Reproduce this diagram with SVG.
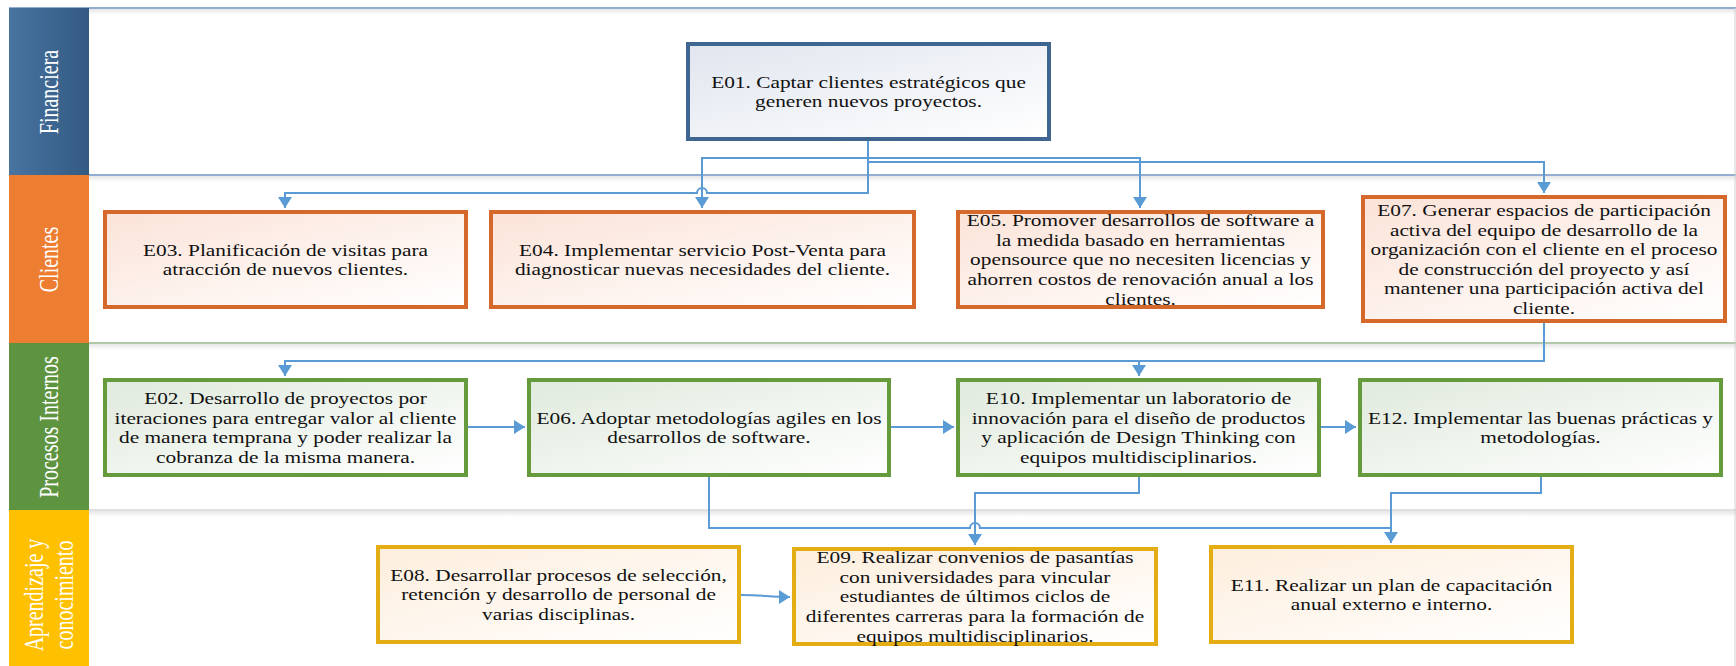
<svg xmlns="http://www.w3.org/2000/svg" width="1736" height="666" viewBox="0 0 1736 666">
<style>
.t{font-family:"Liberation Serif","Times New Roman",serif;font-size:17.5px;fill:#111111;text-anchor:middle}
.h{font-family:"Liberation Serif","Times New Roman",serif;font-size:20px;fill:#ffffff;text-anchor:middle}
.c{fill:none;stroke:#5B9BD5;stroke-width:2}
.ca{fill:none;stroke:#5B9BD5;stroke-width:2;marker-end:url(#ar)}
.bb{fill:url(#gb);stroke:#3F6690;stroke-width:4}
.bo{fill:url(#go);stroke:#D5692B;stroke-width:4}
.bg{fill:url(#gg);stroke:#659A3D;stroke-width:4}
.by{fill:url(#gy);stroke:#E4AD14;stroke-width:4}
</style>
<defs>
<marker id="ar" viewBox="0 0 11 14" refX="11" refY="7" markerWidth="11" markerHeight="14" markerUnits="userSpaceOnUse" orient="auto"><path d="M0,0 L11,7 L0,14 z" fill="#5B9BD5"/></marker>
<linearGradient id="gb" x1="0" y1="0" x2="1" y2="1"><stop offset="0" stop-color="#E0E5EE"/><stop offset="1" stop-color="#FFFFFF"/></linearGradient>
<linearGradient id="go" x1="0" y1="0" x2="1" y2="1"><stop offset="0" stop-color="#FBE3D8"/><stop offset="1" stop-color="#FFFFFF"/></linearGradient>
<linearGradient id="gg" x1="0" y1="0" x2="1" y2="1"><stop offset="0" stop-color="#E0EADD"/><stop offset="1" stop-color="#FFFFFF"/></linearGradient>
<linearGradient id="gy" x1="0" y1="0" x2="1" y2="1"><stop offset="0" stop-color="#FDEEDD"/><stop offset="1" stop-color="#FFFFFF"/></linearGradient>
<linearGradient id="hb" x1="0" y1="0" x2="1" y2="0"><stop offset="0" stop-color="#4874A0"/><stop offset="1" stop-color="#335A82"/></linearGradient>
<linearGradient id="sh" x1="0" y1="0" x2="0" y2="1"><stop offset="0" stop-color="#E6E6E6"/><stop offset="1" stop-color="#FFFFFF"/></linearGradient>
</defs>
<rect width="1736" height="666" fill="#ffffff"/>
<g id="lanes">
<rect x="88" y="9" width="1648" height="6" fill="url(#sh)"/>
<rect x="88" y="176" width="1648" height="6" fill="url(#sh)"/>
<rect x="88" y="344" width="1648" height="6" fill="url(#sh)"/>
<rect x="88" y="511" width="1648" height="6" fill="url(#sh)"/>
<line x1="9" y1="8" x2="1736" y2="8" stroke="#6C90C4" stroke-width="1.5"/>
<line x1="88" y1="175" x2="1736" y2="175" stroke="#7092C0" stroke-width="1.5"/>
<line x1="88" y1="343" x2="1736" y2="343" stroke="#9AB58C" stroke-width="1.5"/>
<line x1="88" y1="510" x2="1736" y2="510" stroke="#D6D6D6" stroke-width="1.5"/>
<line x1="1735" y1="8" x2="1735" y2="666" stroke="#D0D0D0" stroke-width="1"/>
<rect x="9" y="8" width="80" height="167" fill="url(#hb)"/>
<rect x="9" y="175" width="80" height="168" fill="#ED7D31"/>
<rect x="9" y="343" width="80" height="167" fill="#5E9440"/>
<rect x="9" y="510" width="80" height="156" fill="#FFC000"/>
<text class="h" transform="translate(58,92) scale(1.4,1) rotate(-90)">Financiera</text>
<text class="h" transform="translate(58,259.5) scale(1.4,1) rotate(-90)">Clientes</text>
<text class="h" transform="translate(58,427) scale(1.4,1) rotate(-90)">Procesos Internos</text>
<text class="h" transform="translate(43,595) scale(1.4,1) rotate(-90)">Aprendizaje y</text>
<text class="h" transform="translate(73,595) scale(1.4,1) rotate(-90)">conocimiento</text>
</g>
<g id="connectors">
<path class="ca" d="M868,141 V193 H707 A5,5 0 0 0 697,193 H285 V208"/>
<path class="ca" d="M868,158 H702 V208"/>
<path class="ca" d="M868,158 H1140 V208"/>
<path class="ca" d="M868,162 H1544 V193"/>
<path class="ca" d="M1544,323 V361 H285 V376"/>
<path class="ca" d="M1139,361 V376"/>
<path class="ca" d="M468,427 H525"/>
<path class="ca" d="M891,427 H954"/>
<path class="ca" d="M1321,427 H1356"/>
<path class="c" d="M709,477 V528 H970 A5,5 0 0 1 980,528 H1391"/>
<path class="ca" d="M1139,477 V493 H975 V545"/>
<path class="ca" d="M1541,477 V493 H1391 V543"/>
<path class="ca" d="M741,595 C762,595 770,597 790,597"/>
</g>
<g id="E01"><rect class="bb" x="688" y="44" width="361" height="95"/>
<text class="t" transform="translate(868.5,0) scale(1.22,1)"><tspan x="0" y="87.7">E01. Captar clientes estratégicos que</tspan><tspan x="0" y="107.3">generen nuevos proyectos.</tspan></text></g>
<g id="E03"><rect class="bo" x="105" y="212" width="361" height="95"/>
<text class="t" transform="translate(285.5,0) scale(1.22,1)"><tspan x="0" y="255.7">E03. Planificación de visitas para</tspan><tspan x="0" y="275.3">atracción de nuevos clientes.</tspan></text></g>
<g id="E04"><rect class="bo" x="491" y="212" width="423" height="95"/>
<text class="t" transform="translate(702.5,0) scale(1.22,1)"><tspan x="0" y="255.7">E04. Implementar servicio Post-Venta para</tspan><tspan x="0" y="275.3">diagnosticar nuevas necesidades del cliente.</tspan></text></g>
<g id="E05"><rect class="bo" x="958" y="212" width="365" height="95"/>
<text class="t" transform="translate(1140.5,0) scale(1.22,1)"><tspan x="0" y="226.3">E05. Promover desarrollos de software a</tspan><tspan x="0" y="245.9">la medida basado en herramientas</tspan><tspan x="0" y="265.5">opensource que no necesiten licencias y</tspan><tspan x="0" y="285.1">ahorren costos de renovación anual a los</tspan><tspan x="0" y="304.7">clientes.</tspan></text></g>
<g id="E07"><rect class="bo" x="1363" y="197" width="362" height="124"/>
<text class="t" transform="translate(1544,0) scale(1.22,1)"><tspan x="0" y="216">E07. Generar espacios de participación</tspan><tspan x="0" y="235.6">activa del equipo de desarrollo de la</tspan><tspan x="0" y="255.2">organización con el cliente en el proceso</tspan><tspan x="0" y="274.8">de construcción del proyecto y así</tspan><tspan x="0" y="294.4">mantener una participación activa del</tspan><tspan x="0" y="314">cliente.</tspan></text></g>
<g id="E02"><rect class="bg" x="105" y="380" width="361" height="95"/>
<text class="t" transform="translate(285.5,0) scale(1.22,1)"><tspan x="0" y="404.1">E02. Desarrollo de proyectos por</tspan><tspan x="0" y="423.7">iteraciones para entregar valor al cliente</tspan><tspan x="0" y="443.3">de manera temprana y poder realizar la</tspan><tspan x="0" y="462.9">cobranza de la misma manera.</tspan></text></g>
<g id="E06"><rect class="bg" x="529" y="380" width="360" height="95"/>
<text class="t" transform="translate(709,0) scale(1.22,1)"><tspan x="0" y="423.7">E06. Adoptar metodologías agiles en los</tspan><tspan x="0" y="443.3">desarrollos de software.</tspan></text></g>
<g id="E10"><rect class="bg" x="958" y="380" width="361" height="95"/>
<text class="t" transform="translate(1138.5,0) scale(1.22,1)"><tspan x="0" y="404.1">E10. Implementar un laboratorio de</tspan><tspan x="0" y="423.7">innovación para el diseño de productos</tspan><tspan x="0" y="443.3">y aplicación de Design Thinking con</tspan><tspan x="0" y="462.9">equipos multidisciplinarios.</tspan></text></g>
<g id="E12"><rect class="bg" x="1360" y="380" width="361" height="95"/>
<text class="t" transform="translate(1540.5,0) scale(1.22,1)"><tspan x="0" y="423.7">E12. Implementar las buenas prácticas y</tspan><tspan x="0" y="443.3">metodologías.</tspan></text></g>
<g id="E08"><rect class="by" x="378" y="547" width="361" height="95"/>
<text class="t" transform="translate(558.5,0) scale(1.22,1)"><tspan x="0" y="580.9">E08. Desarrollar procesos de selección,</tspan><tspan x="0" y="600.5">retención y desarrollo de personal de</tspan><tspan x="0" y="620.1">varias disciplinas.</tspan></text></g>
<g id="E09"><rect class="by" x="794" y="549" width="362" height="95"/>
<text class="t" transform="translate(975,0) scale(1.22,1)"><tspan x="0" y="563.3">E09. Realizar convenios de pasantías</tspan><tspan x="0" y="582.9">con universidades para vincular</tspan><tspan x="0" y="602.5">estudiantes de últimos ciclos de</tspan><tspan x="0" y="622.1">diferentes carreras para la formación de</tspan><tspan x="0" y="641.7">equipos multidisciplinarios.</tspan></text></g>
<g id="E11"><rect class="by" x="1211" y="547" width="361" height="95"/>
<text class="t" transform="translate(1391.5,0) scale(1.22,1)"><tspan x="0" y="590.7">E11. Realizar un plan de capacitación</tspan><tspan x="0" y="610.3">anual externo e interno.</tspan></text></g>
</svg>
